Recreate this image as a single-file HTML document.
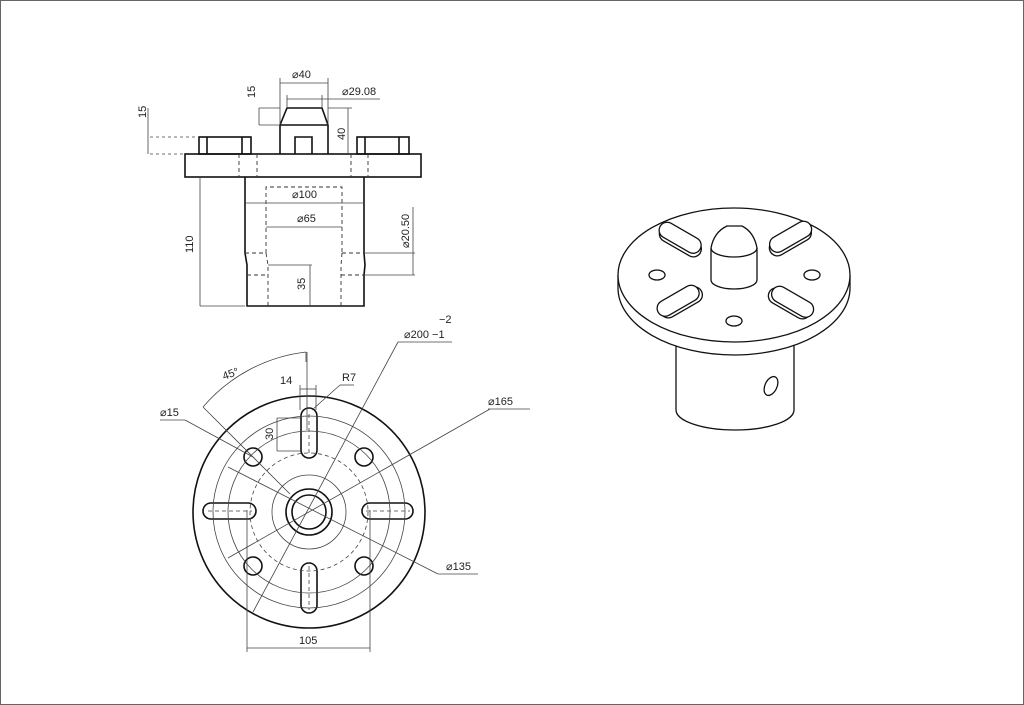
<!DOCTYPE html>
<html><head><meta charset="utf-8"><style>
html,body{margin:0;padding:0;background:#fff}
svg{display:block}
text{font-family:"Liberation Sans",sans-serif;font-size:11px;fill:#222}
</style></head><body>
<svg width="1024" height="705" viewBox="0 0 1024 705" xmlns="http://www.w3.org/2000/svg">
<rect x="0.5" y="0.5" width="1023" height="704" fill="#fff" stroke="#666" stroke-width="1"/>
<g stroke="#111" fill="none" stroke-width="1.6">
<!-- FRONT VIEW -->
<rect x="185" y="154" width="236" height="23"/>
<rect x="199" y="137" width="52" height="17"/>
<line x1="207" y1="137" x2="207" y2="154"/><line x1="242" y1="137" x2="242" y2="154"/>
<rect x="357" y="137" width="52" height="17"/>
<line x1="365" y1="137" x2="365" y2="154"/><line x1="399" y1="137" x2="399" y2="154"/>
<polyline points="280,154 280,125 287,108 322,108 328,125 328,154"/>
<line x1="280" y1="125" x2="328" y2="125"/>
<polyline points="295,154 295,137 312,137 312,154"/>
<polyline points="245,177 245,253 247,265 247,306 364,306 364,275 365,265 364,253 364,177"/>
</g>
<g stroke="#333" fill="none" stroke-width="0.9" stroke-dasharray="4,3">
<line x1="239" y1="154" x2="239" y2="177"/><line x1="257" y1="154" x2="257" y2="177"/>
<line x1="351" y1="154" x2="351" y2="177"/><line x1="368" y1="154" x2="368" y2="177"/>
<polyline points="266,253 266,187 342,187 342,253"/>
<polyline points="266,253 268,265 268,306"/><polyline points="342,253 341,265 341,306"/>
<line x1="245" y1="253" x2="266" y2="253"/><line x1="247" y1="275" x2="268" y2="275"/>
<line x1="342" y1="253" x2="364" y2="253"/><line x1="341" y1="275" x2="364" y2="275"/>
</g>
<g stroke="#444" fill="none" stroke-width="0.8">
<line x1="280" y1="83" x2="328" y2="83"/><line x1="280" y1="78" x2="280" y2="125"/><line x1="328" y1="78" x2="328" y2="125"/>
<line x1="287" y1="99" x2="380" y2="99"/><line x1="287" y1="95" x2="287" y2="108"/><line x1="322" y1="95" x2="322" y2="108"/>
<line x1="259" y1="108" x2="259" y2="125"/><line x1="259" y1="108" x2="280" y2="108"/><line x1="259" y1="125" x2="280" y2="125"/>
<line x1="348" y1="108" x2="348" y2="154"/><line x1="328" y1="108" x2="352" y2="108"/>
<line x1="148" y1="108" x2="148" y2="154"/><line x1="150" y1="137" x2="199" y2="137" stroke-dasharray="3,3"/><line x1="150" y1="154" x2="185" y2="154" stroke-dasharray="3,3"/>
<line x1="245" y1="203" x2="364" y2="203"/>
<line x1="266" y1="227" x2="342" y2="227"/>
<line x1="200" y1="177" x2="200" y2="306"/><line x1="200" y1="306" x2="245" y2="306"/>
<line x1="310" y1="265" x2="310" y2="306"/><line x1="268" y1="265" x2="312" y2="265"/>
<line x1="413" y1="207" x2="413" y2="275"/><line x1="364" y1="253" x2="415" y2="253"/><line x1="364" y1="275" x2="415" y2="275"/>
</g>
<text x="292" y="78">⌀40</text>
<text x="342" y="95">⌀29.08</text>
<text x="292" y="198">⌀100</text>
<text x="297" y="222">⌀65</text>
<text transform="translate(255,98) rotate(-90)">15</text>
<text transform="translate(146,118) rotate(-90)">15</text>
<text transform="translate(345,140) rotate(-90)">40</text>
<text transform="translate(193,253) rotate(-90)">110</text>
<text transform="translate(305,290) rotate(-90)">35</text>
<text transform="translate(409,248) rotate(-90)">⌀20.50</text>

<!-- TOP VIEW -->
<g stroke="#111" fill="none" stroke-width="1.6">
<circle cx="309" cy="512" r="116"/>
<circle cx="309" cy="512" r="23"/>
<circle cx="309" cy="512" r="17"/>
<circle cx="253" cy="457" r="9"/><circle cx="364" cy="457" r="9"/>
<circle cx="253" cy="566" r="9"/><circle cx="364" cy="566" r="9"/>
<rect x="301" y="408" width="16" height="50" rx="8"/>
<rect x="301" y="563" width="16" height="50" rx="8"/>
<rect x="203" y="503" width="53" height="16" rx="8"/>
<rect x="362" y="503" width="51" height="16" rx="8"/>
</g>
<g stroke="#444" fill="none" stroke-width="0.8">
<circle cx="309" cy="512" r="96"/>
<circle cx="309" cy="512" r="81"/>
<circle cx="309" cy="512" r="59" stroke-dasharray="4,3"/>
<circle cx="309" cy="512" r="37"/>
<line x1="398" y1="342" x2="253" y2="612"/><line x1="398" y1="342" x2="452" y2="342"/>
<line x1="490" y1="409" x2="228" y2="558"/><line x1="488" y1="409" x2="530" y2="409"/>
<line x1="438" y1="574" x2="228" y2="467"/><line x1="438" y1="574" x2="478" y2="574"/>
<line x1="160" y1="420" x2="185" y2="420"/><line x1="185" y1="420" x2="253" y2="457"/>
<path d="M203,407 A160,160 0 0 1 306,352"/>
<line x1="203" y1="407" x2="290" y2="494"/>
<line x1="306" y1="362" x2="306" y2="352"/><line x1="307" y1="352" x2="307" y2="430"/>
<line x1="300" y1="389" x2="316" y2="389"/><line x1="300" y1="385" x2="300" y2="410"/><line x1="316" y1="385" x2="316" y2="410"/>
<line x1="340" y1="385" x2="354" y2="385"/><line x1="340" y1="385" x2="312" y2="410"/>
<line x1="277" y1="418" x2="277" y2="451"/><line x1="277" y1="418" x2="301" y2="418"/><line x1="277" y1="451" x2="301" y2="451"/>
<line x1="247" y1="510" x2="247" y2="652"/><line x1="370" y1="510" x2="370" y2="652"/><line x1="247" y1="648" x2="370" y2="648"/>
<line x1="309" y1="414" x2="309" y2="456" stroke-dasharray="4,3"/><line x1="309" y1="566" x2="309" y2="610" stroke-dasharray="4,3"/>
<line x1="208" y1="511" x2="252" y2="511" stroke-dasharray="4,3"/><line x1="366" y1="511" x2="410" y2="511" stroke-dasharray="4,3"/>
</g>
<text x="404" y="338">⌀200 −1</text><text x="439" y="323">−2</text>
<text x="488" y="405">⌀165</text>
<text x="446" y="570">⌀135</text>
<text x="160" y="416">⌀15</text>
<text transform="translate(224,380) rotate(-20)">45°</text>
<text x="280" y="384">14</text>
<text x="342" y="381">R7</text>
<text transform="translate(273,440) rotate(-90)">30</text>
<text x="299" y="644">105</text>

<!-- ISOMETRIC -->
<g stroke="#111" fill="#fff" stroke-width="1.3">
<path d="M676,340 L676,410 A59,20 0 0 0 794,410 L794,340"/>
<ellipse cx="771" cy="386" rx="6" ry="10" transform="rotate(25 771 386)"/>
<path d="M618,275 L618,288 A116,67 0 0 0 850,288 L850,275"/>
<ellipse cx="734" cy="275" rx="116" ry="67"/>
<ellipse cx="657" cy="275" rx="8" ry="5"/><ellipse cx="812" cy="275" rx="8" ry="5"/><ellipse cx="734" cy="321" rx="8" ry="5"/>
<path d="M711,248 L711,280 A23,9 0 0 0 757,280 L757,248 Q754,232 742,226 L727,226 Q714,232 711,248 Z"/>
<path d="M711,248 A23,9 0 0 0 757,248" fill="none"/>
<g transform="rotate(30 680 240)"><rect x="658" y="233" width="46" height="16" rx="8"/><rect x="656" y="230" width="46" height="16" rx="8"/></g>
<g transform="rotate(-30 789 240)"><rect x="767" y="233" width="46" height="16" rx="8"/><rect x="769" y="230" width="46" height="16" rx="8"/></g>
<g transform="rotate(-30 680 302)"><rect x="658" y="295" width="46" height="16" rx="8"/><rect x="656" y="292" width="46" height="16" rx="8"/></g>
<g transform="rotate(30 789 302)"><rect x="767" y="295" width="46" height="16" rx="8"/><rect x="769" y="292" width="46" height="16" rx="8"/></g>
</g>
</svg>
</body></html>
